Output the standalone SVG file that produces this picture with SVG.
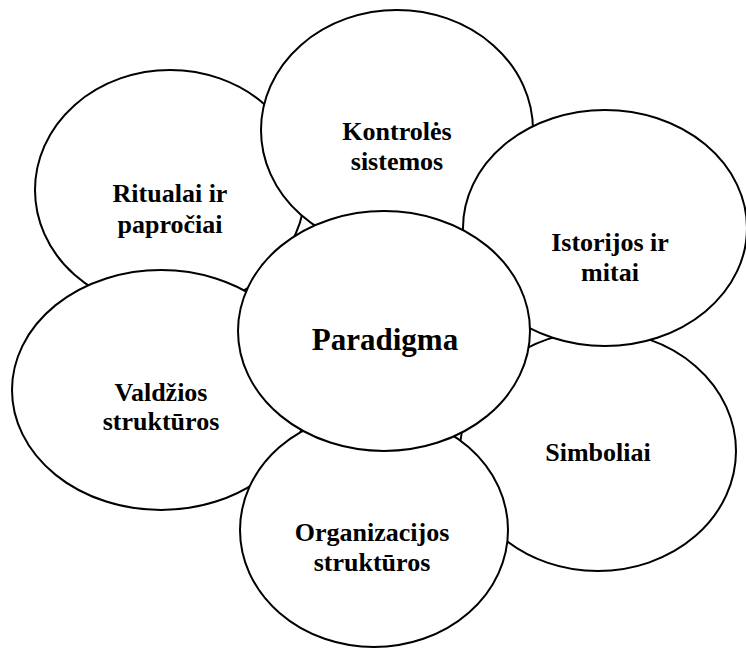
<svg xmlns="http://www.w3.org/2000/svg" width="746" height="648" viewBox="0 0 746 648">
<style>
.n ellipse{fill:#fff;stroke:#000;stroke-width:2}
.t{font-family:"Liberation Serif","Times New Roman",serif;font-weight:bold;font-size:26px;text-anchor:middle;fill:#000}
.big{font-size:31px}
</style>
<rect width="746" height="648" fill="#fff"/>
<g id="connectors"></g>
<g id="ritualai" class="n"><ellipse cx="170" cy="190" rx="135" ry="120"/><text class="t" x="170" y="202">Ritualai ir</text><text class="t" x="170" y="233">papročiai</text></g>
<g id="kontroles" class="n"><ellipse cx="397" cy="130" rx="136" ry="120"/><text class="t" x="397" y="140">Kontrolės</text><text class="t" x="397" y="170">sistemos</text></g>
<g id="valdzios" class="n"><ellipse cx="161" cy="390" rx="149" ry="120"/><text class="t" x="161" y="401">Valdžios</text><text class="t" x="161" y="430">struktūros</text></g>
<g id="simboliai" class="n"><ellipse cx="598" cy="451" rx="138" ry="120"/><text class="t" x="598" y="461">Simboliai</text></g>
<g id="istorijos" class="n"><ellipse cx="605" cy="228" rx="142" ry="118"/><text class="t" x="610" y="251">Istorijos ir</text><text class="t" x="610" y="281">mitai</text></g>
<g id="organizacijos" class="n"><ellipse cx="374" cy="530" rx="134" ry="117"/><text class="t" x="372" y="541">Organizacijos</text><text class="t" x="372" y="571">struktūros</text></g>
<g id="paradigma" class="n"><ellipse cx="384" cy="331" rx="146" ry="120"/><text class="t big" x="385" y="350">Paradigma</text></g>
</svg>
